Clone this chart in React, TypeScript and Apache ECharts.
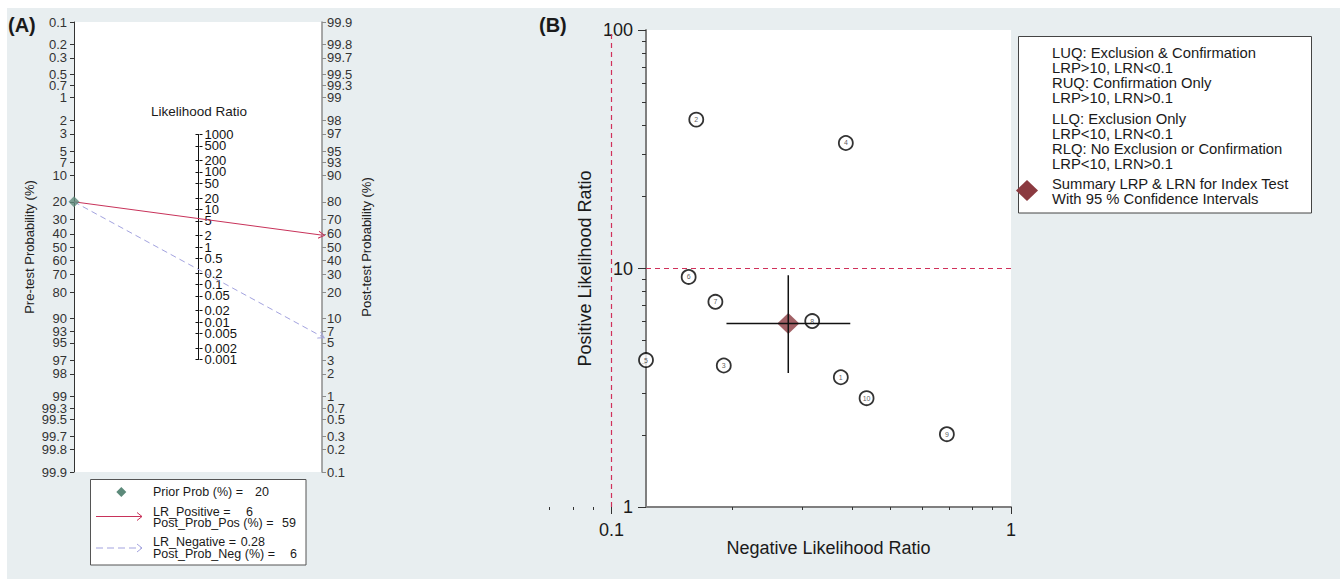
import React, { useEffect, useRef } from 'react';
import * as echarts from 'echarts';

// ---------- Panel A (Fagan nomogram) data ----------
const preTicks = ['0.1', '0.2', '0.3', '0.5', '0.7', '1', '2', '3', '5', '7', '10', '20', '30', '40', '50', '60', '70', '80', '90', '93', '95', '97', '98', '99', '99.3', '99.5', '99.7', '99.8', '99.9'];
const postTicks = ['99.9', '99.8', '99.7', '99.5', '99.3', '99', '98', '97', '95', '93', '90', '80', '70', '60', '50', '40', '30', '20', '10', '7', '5', '3', '2', '1', '0.7', '0.5', '0.3', '0.2', '0.1'];
const lrTicks = ['1000', '500', '200', '100', '50', '20', '10', '5', '2', '1', '0.5', '0.2', '0.1', '0.05', '0.02', '0.01', '0.005', '0.002', '0.001'];

const priorProb = 20;
const lrPositive = 6;
const postProbPos = 59;
const lrNegative = 0.28;
const postProbNeg = 6;

// ---------- Panel B (likelihood ratio scattergram) data ----------
const studyIds = [1, 2, 3, 4, 5, 6, 7, 8, 9, 10];
const studyLRN = [0.375, 0.163, 0.191, 0.386, 0.122, 0.156, 0.182, 0.318, 0.691, 0.435];
const studyLRP = [3.5, 42.1, 3.92, 33.6, 4.13, 9.22, 7.25, 6.02, 2.02, 2.86];

const summaryLRN = 0.277;
const summaryLRNci = [0.194, 0.396];
const summaryLRP = 5.88;
const summaryLRPci = [3.65, 9.37];

const lrpThreshold = 10;
const lrnThreshold = 0.1;

const bXTicksMinor = ['0.07', '0.08', '0.09', '0.2', '0.3', '0.4', '0.5', '0.6', '0.7', '0.8', '0.9'];
const bXTicksMajor = ['0.1', '1'];
const bXAxisStart = 0.07;
const bYTicksMinor = ['2', '3', '4', '5', '6', '7', '8', '9', '20', '30', '40', '50', '60', '70', '80', '90'];
const bYTicksMajor = ['1', '10', '100'];
const bYRange = [1, 100];

const quadrantLegend = [
  ['LUQ: Exclusion & Confirmation', 'LRP>10, LRN<0.1', 'RUQ: Confirmation Only', 'LRP>10, LRN>0.1'],
  ['LLQ: Exclusion Only', 'LRP<10, LRN<0.1', 'RLQ: No Exclusion or Confirmation', 'LRP<10, LRN>0.1'],
  ['Summary LRP & LRN for Index Test', 'With 95 % Confidence Intervals'],
];

// ---------- helpers ----------
const FONT = '"Liberation Sans", Arial, Helvetica, sans-serif';
const EPS = 1e-6;
const logit = (p: number) => Math.log(p / (1 - p));
const L = logit(0.999);
const toPre = (s: string | number) => logit(Number(s) / 100);
const toPost = (s: string | number) => -logit(Number(s) / 100);
const lg = (s: string | number) => Math.log10(Number(s));
const fmt = (labels: string[], f: (s: string) => number) => (v: number) => {
  const hit = labels.find((s) => Math.abs(f(s) - v) < 1e-5);
  return hit ?? '';
};

const RED = '#c8325a';
const PURPLE = '#a3a3df';
const GREEN = '#5c8a7a';
const MAROON = '#8b3a40';
const BG = '#e8eef0';

const ARROW = 'path://M0,10L5,0L10,10L8.6,10L5,2.8L1.4,10Z';

// ---------- layout ----------
const A = { left: 74, top: 22, width: 248, height: 450 };
const lrCy = A.top + A.height / 2;
const lrHalf = (A.height / 2) * (Math.log(1000) / 2) / L;
const LRG = { left: 198.5, top: lrCy - lrHalf, width: 1, height: 2 * lrHalf };

const B1 = { left: 646, top: 30, width: 365, height: 477 };
const bXMin = Math.min(...studyLRN);
const decPx = B1.width / -lg(bXMin);
const b2Width = decPx * -lg(bXAxisStart);
const B2 = { left: B1.left + B1.width - b2Width, top: B1.top, width: b2Width, height: B1.height };

function buildOption(): any {
  const noSplit = { show: false };
  const lbl = (size: number, color = '#222') => ({ fontSize: size, color, fontFamily: FONT });
  const all = { showMinLabel: true, showMaxLabel: true };
  const lrEven = lrTicks.filter((_, i) => i % 2 === 0);
  const lrOdd = lrTicks.filter((_, i) => i % 2 === 1);

  const xAxis = [
    { gridIndex: 0, type: 'value', min: 0, max: 1, show: false },
    { gridIndex: 1, type: 'value', min: 0, max: 1, show: false },
    {
      gridIndex: 2, type: 'value', min: lg(bXMin), max: 0,
      axisLine: { show: true, onZero: false, lineStyle: { color: '#7f7f7f', width: 2 } },
      axisTick: { show: false }, axisLabel: { show: false }, splitLine: noSplit,
      name: 'Negative Likelihood Ratio', nameLocation: 'middle', nameGap: 32,
      nameTextStyle: lbl(18, '#1a1a1a'),
    },
    {
      gridIndex: 3, type: 'value', min: lg(bXAxisStart) - EPS, max: EPS, position: 'bottom',
      axisLine: { show: false, onZero: false },
      axisTick: { show: true, length: 3, customValues: bXTicksMinor.map(lg), lineStyle: { color: '#333' } },
      axisLabel: { show: false }, splitLine: noSplit,
    },
    {
      gridIndex: 3, type: 'value', min: lg(bXAxisStart) - EPS, max: EPS, position: 'bottom',
      axisLine: { show: false, onZero: false },
      axisTick: { show: true, length: 7, customValues: bXTicksMajor.map(lg), lineStyle: { color: '#333' } },
      axisLabel: { show: true, ...all, customValues: bXTicksMajor.map(lg), formatter: fmt(bXTicksMajor, lg), margin: 14, ...lbl(18, '#1a1a1a') },
      splitLine: noSplit,
    },
  ];

  const yAxis = [
    {
      gridIndex: 0, type: 'value', min: -L - EPS, max: L + EPS, inverse: true, position: 'left',
      axisLine: { show: true, onZero: false, lineStyle: { color: '#333', width: 1 } },
      axisTick: { show: true, length: 4, customValues: preTicks.map(toPre), lineStyle: { color: '#333' } },
      axisLabel: { ...all, customValues: preTicks.map(toPre), formatter: fmt(preTicks, toPre), margin: 7, ...lbl(13, '#333') },
      splitLine: noSplit,
      name: 'Pre-test Probability (%)', nameLocation: 'middle', nameGap: 38, nameTextStyle: lbl(13, '#222'),
    },
    {
      gridIndex: 0, type: 'value', min: -L - EPS, max: L + EPS, inverse: true, position: 'right',
      axisLine: { show: true, onZero: false, lineStyle: { color: '#8c8c8c', width: 1.5 } },
      axisTick: { show: true, length: 4, customValues: postTicks.map(toPost), lineStyle: { color: '#8c8c8c' } },
      axisLabel: { ...all, customValues: postTicks.map(toPost), formatter: fmt(postTicks, toPost), margin: 5, ...lbl(13, '#333') },
      splitLine: noSplit,
      name: 'Post-test Probability (%)', nameLocation: 'middle', nameGap: 38, nameTextStyle: lbl(13, '#222'),
    },
    {
      gridIndex: 1, type: 'value', min: -3 - EPS, max: 3 + EPS, position: 'left',
      axisLine: { show: true, onZero: false, lineStyle: { color: '#111', width: 1 } },
      axisTick: { show: true, length: 3, customValues: lrTicks.map(lg), lineStyle: { color: '#111' } },
      axisLabel: { show: false }, splitLine: noSplit,
    },
    {
      gridIndex: 1, type: 'value', min: -3 - EPS, max: 3 + EPS, position: 'right',
      axisLine: { show: false, onZero: false },
      axisTick: { show: true, length: 3, customValues: lrTicks.map(lg), lineStyle: { color: '#111' } },
      axisLabel: { ...all, customValues: lrEven.map(lg), formatter: fmt(lrEven, lg), margin: 5, ...lbl(13, '#111') },
      splitLine: noSplit,
    },
    {
      gridIndex: 1, type: 'value', min: -3 - EPS, max: 3 + EPS, position: 'right',
      axisLine: { show: false, onZero: false },
      axisTick: { show: false },
      axisLabel: { ...all, customValues: lrOdd.map(lg), formatter: fmt(lrOdd, lg), margin: 5, ...lbl(13, '#111') },
      splitLine: noSplit,
    },
    {
      gridIndex: 2, type: 'value', min: lg(bYRange[0]) - EPS, max: lg(bYRange[1]) + EPS, position: 'left',
      axisLine: { show: true, onZero: false, lineStyle: { color: '#7f7f7f', width: 2 } },
      axisTick: { show: true, length: 8, customValues: bYTicksMajor.map(lg), lineStyle: { color: '#333' } },
      axisLabel: { ...all, customValues: bYTicksMajor.map(lg), formatter: fmt(bYTicksMajor, lg), margin: 13, ...lbl(18, '#1a1a1a') },
      splitLine: noSplit,
      name: 'Positive Likelihood Ratio', nameLocation: 'middle', nameGap: 52, nameTextStyle: lbl(18, '#1a1a1a'),
    },
    {
      gridIndex: 2, type: 'value', min: lg(bYRange[0]) - EPS, max: lg(bYRange[1]) + EPS, position: 'left',
      axisLine: { show: false, onZero: false },
      axisTick: { show: true, length: 4, customValues: bYTicksMinor.map(lg), lineStyle: { color: '#333' } },
      axisLabel: { show: false }, splitLine: noSplit,
    },
    { gridIndex: 3, type: 'value', min: lg(bYRange[0]) - EPS, max: lg(bYRange[1]) + EPS, show: false },
  ];

  // yAxis indices: 0 pre, 1 post, 2-4 LR, 5-6 panel B y, 7 B2 hidden
  const series: any[] = [
    {
      type: 'line', xAxisIndex: 0, yAxisIndex: 0, data: [], silent: true,
      markLine: {
        silent: true, symbol: ['none', ARROW], symbolSize: [8, 7], label: { show: false },
        lineStyle: { color: RED, width: 1, type: 'solid' },
        emphasis: { disabled: true },
        data: [[{ coord: [0, toPre(priorProb)] }, { coord: [1, toPost(postProbPos)] }]],
      },
    },
    {
      type: 'line', xAxisIndex: 0, yAxisIndex: 0, data: [], silent: true,
      markLine: {
        silent: true, symbol: ['none', ARROW], symbolSize: [8, 7], label: { show: false },
        lineStyle: { color: PURPLE, width: 1, type: [6, 4] },
        emphasis: { disabled: true },
        data: [[{ coord: [0, toPre(priorProb)] }, { coord: [1, toPost(postProbNeg)] }]],
      },
    },
    {
      type: 'scatter', xAxisIndex: 0, yAxisIndex: 0, clip: false, z: 5,
      symbol: 'diamond', symbolSize: 11, itemStyle: { color: GREEN },
      data: [[0, toPre(priorProb)]],
    },
    // Panel B thresholds
    {
      type: 'line', xAxisIndex: 2, yAxisIndex: 5, data: [], silent: true,
      markLine: {
        silent: true, symbol: 'none', label: { show: false },
        lineStyle: { color: '#d0305a', width: 1.2, type: [5, 4] },
        data: [{ yAxis: lg(lrpThreshold) }],
      },
    },
    {
      type: 'line', xAxisIndex: 4, yAxisIndex: 7, data: [], silent: true,
      markLine: {
        silent: true, symbol: 'none', label: { show: false },
        lineStyle: { color: '#d0305a', width: 1.2, type: [5, 4] },
        data: [{ xAxis: lg(lrnThreshold) }],
      },
    },
    {
      type: 'scatter', xAxisIndex: 2, yAxisIndex: 5, clip: false, z: 4,
      symbol: 'circle', symbolSize: 14,
      itemStyle: { color: '#ffffff', borderColor: '#000', borderWidth: 1.8 },
      label: { show: true, position: 'inside', formatter: (p: any) => String(p.data[2]), fontSize: 7, color: '#333', fontFamily: FONT },
      data: studyIds.map((id, i) => [lg(studyLRN[i]), lg(studyLRP[i]), id]),
    },
    {
      type: 'scatter', xAxisIndex: 2, yAxisIndex: 5, clip: false, z: 5,
      symbol: 'diamond', symbolSize: [22, 21], itemStyle: { color: MAROON },
      data: [[lg(summaryLRN), lg(summaryLRP)]],
    },
    {
      type: 'line', xAxisIndex: 2, yAxisIndex: 5, z: 6, symbol: 'none', silent: true,
      lineStyle: { color: '#111', width: 1.5 },
      data: [[lg(summaryLRNci[0]), lg(summaryLRP)], [lg(summaryLRNci[1]), lg(summaryLRP)]],
    },
    {
      type: 'line', xAxisIndex: 2, yAxisIndex: 5, z: 6, symbol: 'none', silent: true,
      lineStyle: { color: '#111', width: 1.5 },
      data: [[lg(summaryLRN), lg(summaryLRPci[0])], [lg(summaryLRN), lg(summaryLRPci[1])]],
    },
  ];

  const txt = (text: string, x: number, y: number, size: number, extra: any = {}) => ({
    type: 'text', x, y, z: 100,
    style: { text, fontSize: size, fontFamily: FONT, fill: '#1a1a1a', textAlign: 'left', textVerticalAlign: 'middle', ...extra },
  });

  const graphic: any[] = [
    { type: 'rect', shape: { x: 0, y: 0, width: 1340, height: 8 }, style: { fill: '#ffffff' }, z: 1 },
    { type: 'rect', shape: { x: 0, y: 0, width: 7, height: 579 }, style: { fill: '#ffffff' }, z: 1 },
    txt('(A)', 8, 25, 20, { fontWeight: 'bold' }),
    txt('(B)', 539, 25, 20, { fontWeight: 'bold' }),
    txt('Likelihood Ratio', LRG.left + 0.5, 111, 13.5, { textAlign: 'center' }),
    // Legend A
    { type: 'rect', z: 99, shape: { x: 90.5, y: 479.5, width: 215.5, height: 85.5 }, style: { fill: '#ffffff', stroke: '#555', lineWidth: 1 } },
    { type: 'polygon', z: 100, shape: { points: [[121.3, 487], [126.3, 492], [121.3, 497], [116.3, 492]] }, style: { fill: GREEN } },
    txt('Prior Prob (%) =', 153, 492, 12.5),
    txt(String(priorProb), 269, 492, 12.5, { textAlign: 'right' }),
    { type: 'line', z: 100, shape: { x1: 96, y1: 516.5, x2: 142, y2: 516.5 }, style: { stroke: RED, lineWidth: 1 } },
    { type: 'polyline', z: 100, shape: { points: [[137, 512.5], [142, 516.5], [137, 520.5]] }, style: { stroke: RED, lineWidth: 1, fill: 'none' } },
    txt('LR_Positive =', 153, 511.5, 12.5),
    txt(String(lrPositive), 253, 511.5, 12.5, { textAlign: 'right' }),
    txt('Post_Prob_Pos (%) =', 153, 523, 12.5),
    txt(String(postProbPos), 296, 523, 12.5, { textAlign: 'right' }),
    { type: 'line', z: 100, shape: { x1: 96, y1: 548, x2: 142, y2: 548 }, style: { stroke: PURPLE, lineWidth: 1, lineDash: [7, 4] } },
    { type: 'polyline', z: 100, shape: { points: [[137, 544], [142, 548], [137, 552]] }, style: { stroke: PURPLE, lineWidth: 1, fill: 'none' } },
    txt('LR_Negative =', 153, 542, 12.5),
    txt(String(lrNegative), 265, 542, 12.5, { textAlign: 'right' }),
    txt('Post_Prob_Neg (%) =', 153, 554, 12.5),
    txt(String(postProbNeg), 297, 554, 12.5, { textAlign: 'right' }),
    // Legend B
    { type: 'rect', z: 99, shape: { x: 1018.5, y: 36.5, width: 293, height: 176.5 }, style: { fill: '#ffffff', stroke: '#444', lineWidth: 1 } },
    { type: 'polygon', z: 100, shape: { points: [[1027, 180], [1038, 190.5], [1027, 201], [1016, 190.5]] }, style: { fill: MAROON } },
  ];
  const groupTops = [45.8, 111.8, 176.8];
  quadrantLegend.forEach((lines, g) => {
    graphic.push({
      type: 'text', x: 1052, y: groupTops[g], z: 100,
      style: { text: lines.join('\n'), fontSize: 14.8, lineHeight: 15, fontFamily: FONT, fill: '#1a1a1a', textAlign: 'left', textVerticalAlign: 'top' },
    });
  });

  return {
    animation: false,
    backgroundColor: BG,
    textStyle: { fontFamily: FONT },
    grid: [
      { ...A, show: true, backgroundColor: '#ffffff', borderWidth: 0, containLabel: false },
      { ...LRG, show: false, containLabel: false },
      { ...B1, show: true, backgroundColor: '#ffffff', borderWidth: 0, containLabel: false },
      { ...B2, show: false, containLabel: false },
    ],
    xAxis,
    yAxis,
    series,
    graphic,
  };
}

export default function App() {
  const ref = useRef<HTMLDivElement>(null);
  useEffect(() => {
    if (!ref.current) return;
    const chart = echarts.init(ref.current, undefined, { renderer: 'svg' });
    chart.setOption(buildOption());
    return () => chart.dispose();
  }, []);
  return <div ref={ref} style={{ position: 'fixed', left: 0, top: 0, width: 1340, height: 579 }} />;
}
